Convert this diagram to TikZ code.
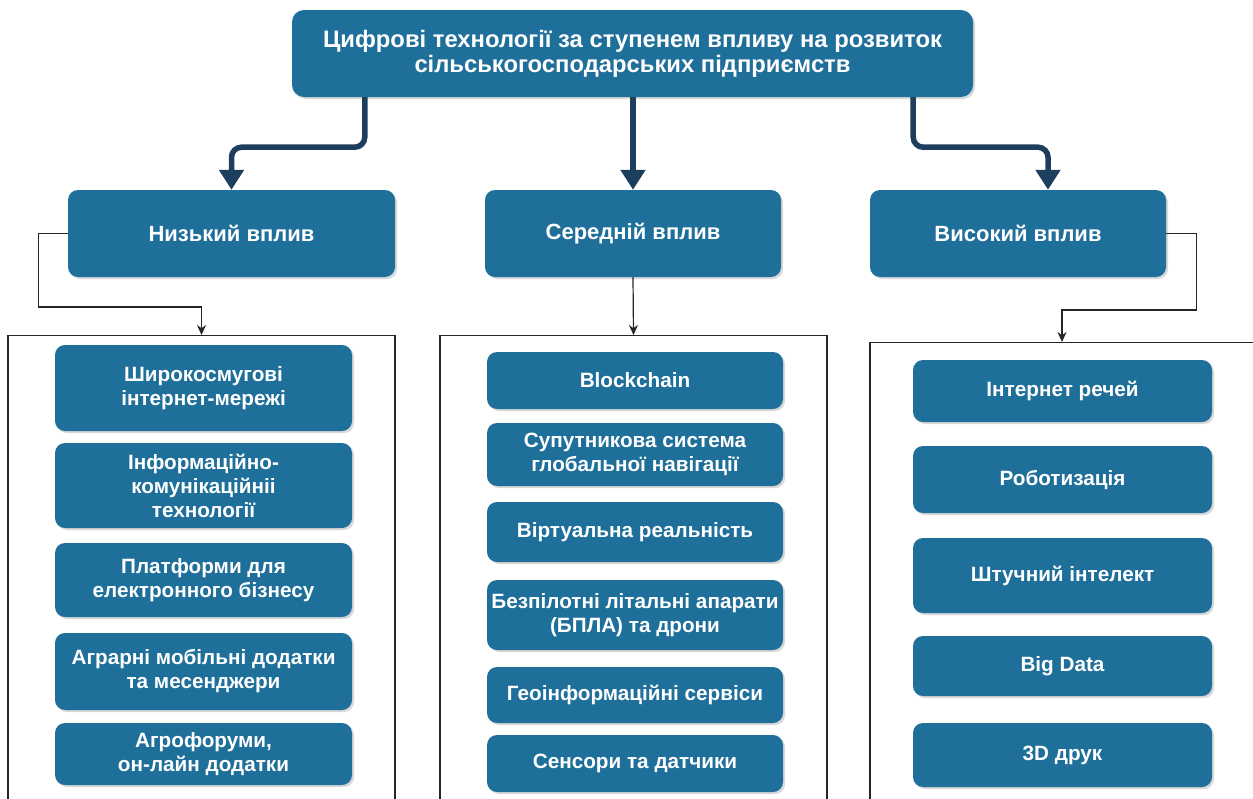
\documentclass[tikz,border=0pt]{standalone}
\usepackage{fontspec}
\setmainfont{Liberation Sans}
\usetikzlibrary{arrows.meta,calc,positioning,shadows}
\definecolor{boxblue}{RGB}{31,111,155}
\definecolor{arrowblue}{RGB}{30,62,94}
\tikzset{
  bluebox/.style={
    rectangle,
    rounded corners=10pt,
    fill=boxblue,
    text=white,
    align=center,
    inner sep=2pt,
    font=\bfseries\fontsize{20.7}{24}\selectfont,
    drop shadow={shadow xshift=2pt,shadow yshift=-2pt,fill=black!30}
  },
  levelbox/.style={bluebox, minimum height=87pt, font=\bfseries\fontsize{22}{26}\selectfont},
  groupbox/.style={draw=black!85, line width=1.2pt, fill=white, minimum height=520pt, anchor=north},
  thickline/.style={draw=arrowblue, line width=5.5pt, rounded corners=10pt, -{Triangle[width=24pt,length=20pt]}},
  thinline/.style={draw=black!85, line width=1.2pt, -{Stealth[width=9pt,length=10pt]}}
}

\begin{document}
\begin{tikzpicture}[x=1pt,y=-1pt]
  \useasboundingbox (0,0) rectangle (1253,798);
  \clip (0,0) rectangle (1253,798);

  \node (title) [levelbox, rounded corners=12pt, minimum width=681pt, font=\bfseries\fontsize{23.8}{25}\selectfont] at (632.5,53.5) {Цифрові технології за ступенем впливу на розвиток\\сільськогосподарських підприємств};

  \node (low) [levelbox, minimum width=327pt] at (231.5,233.5) {Низький вплив};
  \node (mid) [levelbox, minimum width=296pt] at (633,233.5) {Середній вплив};
  \node (high) [levelbox, minimum width=296pt] at (1018,233.5) {Високий вплив};

  \draw[thickline] ([xshift=73pt]title.south west) -- ++(0,50) -| (low.north);
  \draw[thickline] (title.south -| mid.north) -- (mid.north);
  \draw[thickline] ([xshift=-60pt]title.south east) -- ++(0,50) -| ([xshift=30pt]high.north);

  % groups
  \node (lowgroup) [groupbox, minimum width=387pt] at (201.5,335) {};
  \node (midgroup) [groupbox, minimum width=387pt] at (633.5,335) {};
  \node (highgroup) [groupbox, minimum width=384pt] at (1062,342) {};

  \draw[thinline] (low.west) -- ++(-29,0) |- ($(lowgroup.north)+(0,-28)$) -- (lowgroup.north);
  \draw[thinline] (mid.south) -- (midgroup.north);
  \draw[thinline] (high.east) -- ++(30,0) |- ($(highgroup.north)+(0,-32)$) -- (highgroup.north);

  % low impact
  \node (broadband) [bluebox, minimum width=297pt, minimum height=86pt] at (203.5,388) {Широкосмугові\\інтернет-мережі};
  \node (ict) [bluebox, minimum width=297pt, minimum height=85pt] at (203.5,485.5) {Інформаційно-\\комунікаційніі\\технології};
  \node (ebusiness) [bluebox, minimum width=297pt, minimum height=74pt] at (203.5,580) {Платформи для\\електронного бізнесу};
  \node (mobileapps) [bluebox, minimum width=297pt, minimum height=77pt] at (203.5,671.5) {Аграрні мобільні додатки\\та месенджери};
  \node (forums) [bluebox, minimum width=297pt, minimum height=62pt] at (203.5,754) {Агрофоруми,\\он-лайн додатки};

  % medium impact
  \node (blockchain) [bluebox, minimum width=296pt, minimum height=57pt] at (635,380.5) {Blockchain};
  \node (gnss) [bluebox, minimum width=296pt, minimum height=63pt] at (635,454.5) {Супутникова система\\глобальної навігації};
  \node (vr) [bluebox, minimum width=296pt, minimum height=60pt] at (635,532) {Віртуальна реальність};
  \node (drones) [bluebox, minimum width=296pt, minimum height=70pt] at (635,615) {Безпілотні літальні апарати\\(БПЛА) та дрони};
  \node (gis) [bluebox, minimum width=296pt, minimum height=56pt] at (635,695) {Геоінформаційні сервіси};
  \node (sensors) [bluebox, minimum width=296pt, minimum height=57pt] at (635,763.5) {Сенсори та датчики};

  % high impact
  \node (iot) [bluebox, minimum width=299pt, minimum height=62pt] at (1062.5,391) {Інтернет речей};
  \node (robots) [bluebox, minimum width=299pt, minimum height=67pt] at (1062.5,479.5) {Роботизація};
  \node (ai) [bluebox, minimum width=299pt, minimum height=75pt] at (1062.5,575.5) {Штучний інтелект};
  \node (bigdata) [bluebox, minimum width=299pt, minimum height=60pt] at (1062.5,666) {Big Data};
  \node (print3d) [bluebox, minimum width=299pt, minimum height=64pt] at (1062.5,755) {3D друк};
\end{tikzpicture}
\end{document}
